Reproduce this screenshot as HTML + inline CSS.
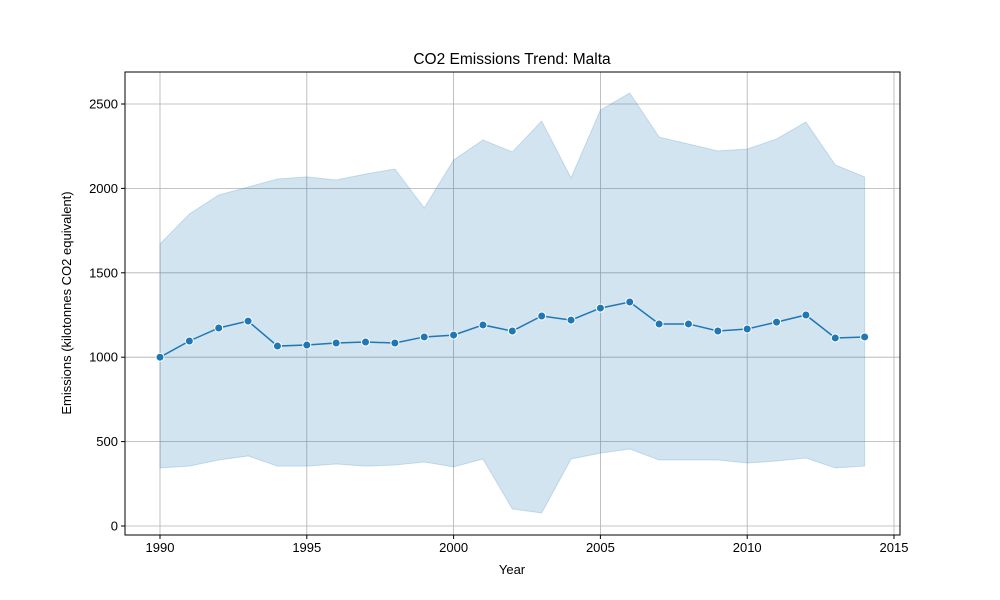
<!DOCTYPE html>
<html><head><meta charset="utf-8"><style>
html,body{margin:0;padding:0;background:#fff;}
svg{display:block;font-family:"Liberation Sans","DejaVu Sans",sans-serif;}
</style></head><body>
<svg id="chart" width="1000" height="600"></svg>
<script>
const years=[1990,1991,1992,1993,1994,1995,1996,1997,1998,1999,2000,2001,2002,2003,2004,2005,2006,2007,2008,2009,2010,2011,2012,2013,2014];
const meanValues=[1000,1096,1173,1214,1066,1072,1084,1090,1084,1120,1131,1191,1155,1244,1220,1291,1327,1197,1197,1155,1167,1208,1250,1114,1120];
const upperValues=[1671,1848,1961,2008,2056,2068,2050,2085,2115,1884,2168,2287,2216,2399,2062,2464,2565,2304,2263,2222,2233,2293,2393,2139,2068];
const lowerValues=[344,355,391,415,355,355,367,355,361,379,350,397,101,77,397,432,456,391,391,391,373,385,403,344,355];
const xTicks=[1990,1995,2000,2005,2010,2015];
const yTicks=[0,500,1000,1500,2000,2500];

const NS="http://www.w3.org/2000/svg";
const svg=document.getElementById('chart');
const L=125,R=900,T=72,B=535;
const xs=v=>160+(v-1990)*(894-160)/25;
const ys=v=>526-v*(526-104)/2500;
function mk(tag,attrs,parent){const e=document.createElementNS(NS,tag);for(const k in attrs)e.setAttribute(k,attrs[k]);(parent||svg).appendChild(e);return e;}

// grid
xTicks.forEach(t=>{const g=mk('line',{x1:xs(t),x2:xs(t),y1:T,y2:B,stroke:'#b0b0b0','stroke-width':0.8});

});
yTicks.forEach(t=>{const g=mk('line',{x1:L,x2:R,y1:ys(t),y2:ys(t),stroke:'#b0b0b0','stroke-width':0.8});

});

// band
let d='';
years.forEach((y,i)=>{d+=(i?'L':'M')+xs(y)+','+ys(upperValues[i]);});
for(let i=years.length-1;i>=0;i--)d+='L'+xs(years[i])+','+ys(lowerValues[i]);
d+='Z';
const band=mk('path',{d:d,fill:'#1f77b4','fill-opacity':0.2,stroke:'#1f77b4','stroke-opacity':0.2});



// line
const pts=years.map((y,i)=>xs(y)+','+ys(meanValues[i])).join(' ');
const line=mk('polyline',{points:pts,fill:'none',stroke:'#1f77b4','stroke-width':1.5});


years.forEach((y,i)=>{const c=mk('circle',{cx:xs(y),cy:ys(meanValues[i]),r:4,fill:'#1f77b4',stroke:'#fff','stroke-width':1});

});

// frame
const fr=mk('rect',{x:L,y:T,width:R-L,height:B-T,fill:'none',stroke:'#000','stroke-width':1});



// ticks
xTicks.forEach(t=>{mk('line',{x1:xs(t),x2:xs(t),y1:B,y2:B+4,stroke:'#000'});
const tx=mk('text',{x:xs(t),y:B+17,'text-anchor':'middle','font-size':13});tx.textContent=t;

});
yTicks.forEach(t=>{mk('line',{x1:L-4,x2:L,y1:ys(t),y2:ys(t),stroke:'#000'});
const tx=mk('text',{x:L-7,y:ys(t)+4.5,'text-anchor':'end','font-size':13});tx.textContent=t;

});

const title=mk('text',{x:512,y:64,'text-anchor':'middle','font-size':15.5});title.textContent='CO2 Emissions Trend: Malta';


const xl=mk('text',{x:512,y:574,'text-anchor':'middle','font-size':13});xl.textContent='Year';


const yl=mk('text',{x:71,y:303,'text-anchor':'middle','font-size':13,transform:'rotate(-90 71 303)'});yl.textContent='Emissions (kilotonnes CO2 equivalent)';


</script>
</body></html>
